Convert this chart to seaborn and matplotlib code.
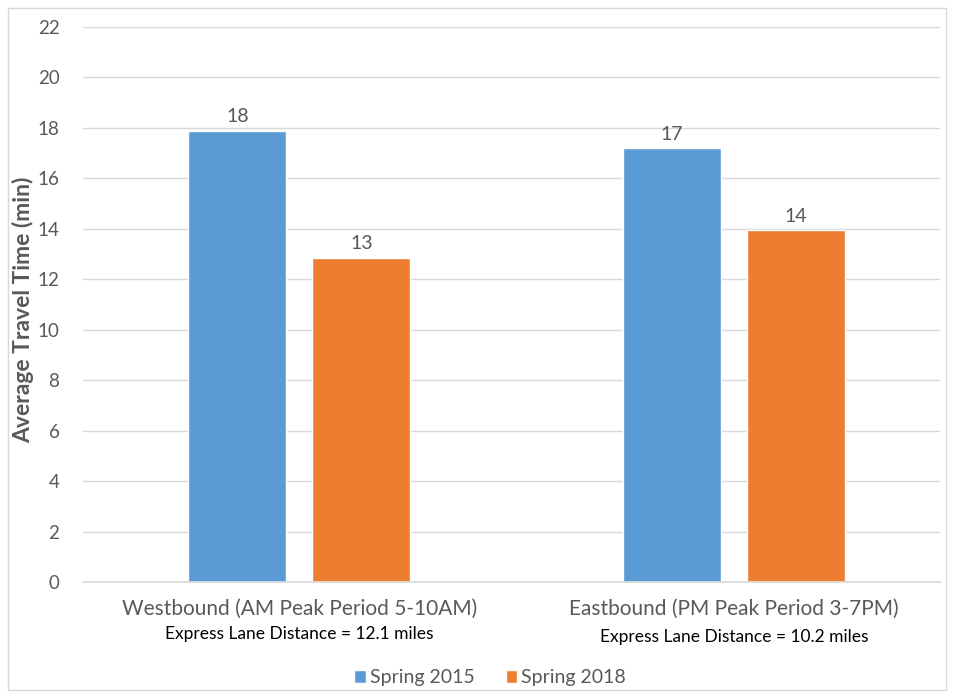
import pandas as pd
import matplotlib.pyplot as plt
import seaborn as sns
from matplotlib.patches import Rectangle

# Data
directions = ["Westbound (AM Peak Period 5-10AM)", "Eastbound (PM Peak Period 3-7PM)"]
distances = ["Express Lane Distance = 12.1 miles", "Express Lane Distance = 10.2 miles"]
spring_2015 = [17.88, 17.2]
spring_2018 = [12.85, 13.95]
labels_2015 = ["18", "17"]
labels_2018 = ["13", "14"]

df = pd.DataFrame({
    "Direction": directions * 2,
    "Period": ["Spring 2015"] * 2 + ["Spring 2018"] * 2,
    "Time": spring_2015 + spring_2018,
})

sns.set_theme(style="white")
plt.rcParams["font.family"] = ["Lato", "DejaVu Sans"]
grey = "#595959"

fig = plt.figure(figsize=(9.54, 6.98), dpi=100)
ax = fig.add_axes([83 / 954, 1 - 582 / 698, (940 - 83) / 954, (582 - 27) / 698])

sns.barplot(data=df, x="Direction", y="Time", hue="Period",
            palette=["#5B9BD5", "#ED7D31"], width=0.5706, gap=0.21,
            saturation=1, ax=ax, legend=True)

# value labels
for cont, labs in zip(ax.containers, [labels_2015, labels_2018]):
    ax.bar_label(cont, labels=labs, padding=4, fontsize=14, color=grey)

ax.set_ylim(0, 22)
ax.set_xlim(-0.498, 1.474)
ax.set_yticks(range(0, 23, 2))
ax.yaxis.grid(True, color="#D9D9D9", linewidth=1)
ax.set_axisbelow(True)
for s in ["top", "right", "left"]:
    ax.spines[s].set_visible(False)
ax.spines["bottom"].set_color("#D9D9D9")
ax.tick_params(axis="y", labelsize=13.5, colors=grey, length=0, pad=17)
ax.tick_params(axis="x", labelsize=15, colors=grey, length=0, pad=12)
ax.set_xlabel("")
ax.set_ylabel("Average Travel Time (min)", fontsize=16.5, fontweight="bold",
              color=grey)
ax.yaxis.set_label_coords(-(83 - 34) / 857, 0.49)

# sub-labels under categories
for i, d in enumerate(distances):
    ax.text(i, -2.05 - 0.12 * i, d, ha="center", va="center", fontsize=12.5,
            color="black", transform=ax.transData, clip_on=False)

ax.legend(loc="center", bbox_to_anchor=(490 / 954, 1 - 678 / 698),
          bbox_transform=fig.transFigure, ncol=2, frameon=False,
          fontsize=14, handlelength=0.6, handleheight=0.6,
          handletextpad=0.2, columnspacing=1.6, labelcolor=grey)

fig.patches.append(Rectangle((8 / 954, 8 / 698), 938 / 954, 682 / 698,
                             transform=fig.transFigure, fill=False,
                             edgecolor="#D9D9D9", linewidth=1))

fig.savefig("out.png", dpi=100)
